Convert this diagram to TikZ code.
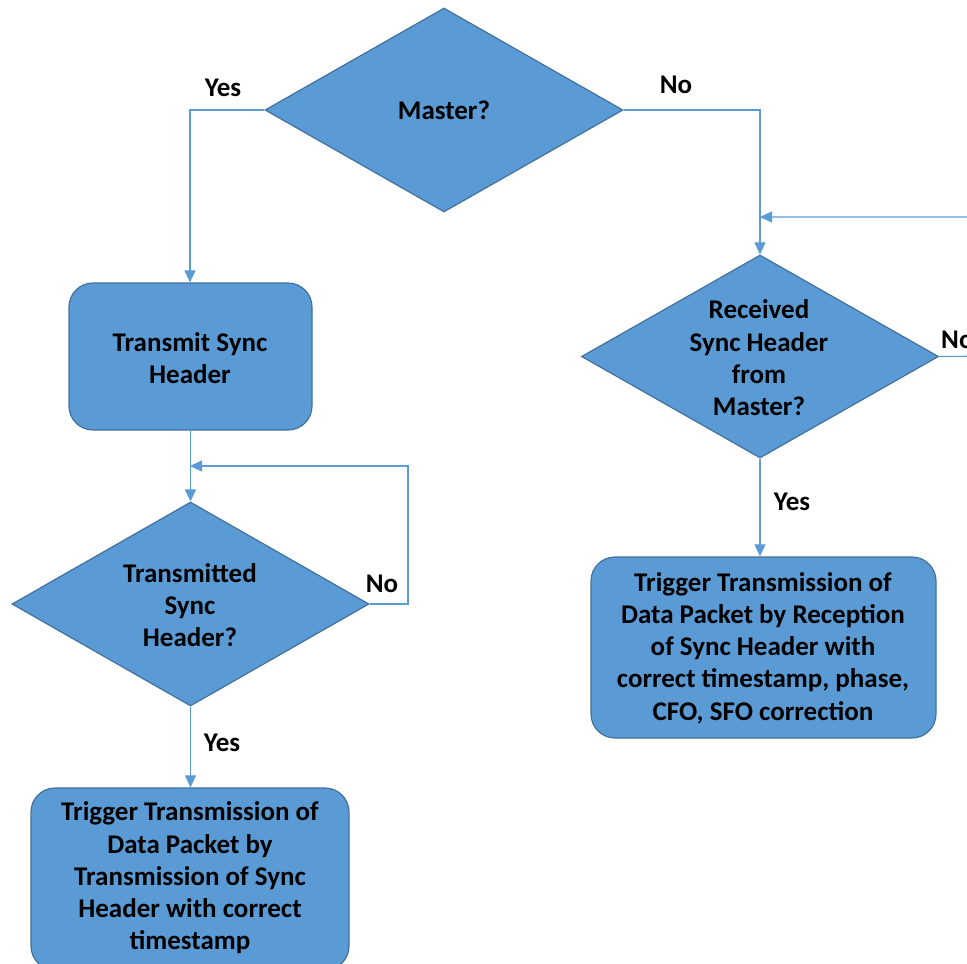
\documentclass[tikz,border=0pt]{standalone}
\usepackage{fontspec}
\setmainfont{Carlito}
\usetikzlibrary{shapes.geometric,arrows.meta}
\definecolor{fillblue}{HTML}{5B9BD5}
\definecolor{edgeblue}{HTML}{41719C}
\begin{document}
\begin{tikzpicture}[x=1pt,y=-1pt,
  every node/.style={font=\fontsize{27}{32.3}\selectfont\bfseries},
  dec/.style={diamond,draw=edgeblue,line width=1.2pt,fill=fillblue,inner sep=0pt},
  procbox/.style={rectangle,rounded corners=24pt,draw=edgeblue,line width=1.2pt,fill=fillblue,inner sep=0pt},
  txt/.style={align=center,inner sep=0pt},
  lbl/.style={inner sep=0pt},
  conn/.style={draw=fillblue,line width=1.1pt,-{Triangle[width=11pt,length=12pt]}},
  plain/.style={draw=fillblue,line width=1.1pt}]
\useasboundingbox (0,0) rectangle (967,964);
% shapes
\node[dec,minimum width=358pt,minimum height=204pt] (master) at (444,110) {};
\node[txt] (mastert) at (444,110) {Master?};
\node[procbox,minimum width=243pt,minimum height=147pt] (tsh) at (190.5,356.5) {};
\node[txt] (tsht) at (190,358) {Transmit Sync\\Header};
\node[dec,minimum width=357pt,minimum height=204pt] (tx) at (190.5,604) {};
\node[txt] (txt1) at (190,605) {Transmitted\\Sync\\Header?};
\node[procbox,minimum width=318pt,minimum height=182pt] (trig1) at (190,879) {};
\node[txt] (trig1t) at (190,878) {Trigger Transmission of\\Data Packet by\\Transmission of Sync\\Header with correct\\timestamp};
\node[dec,minimum width=357pt,minimum height=203pt] (rx) at (760,356.5) {};
\node[txt] (rxt) at (759,358) {Received\\Sync Header\\from\\Master?};
\node[procbox,minimum width=345pt,minimum height=181pt] (trig2) at (763.5,647.5) {};
\node[txt] (trig2t) at (763,648) {Trigger Transmission of\\Data Packet by Reception\\of Sync Header with\\correct timestamp, phase,\\CFO, SFO correction};
% helper coordinates
\coordinate (mL) at (190,110);
\coordinate (mR) at (760,110);
\coordinate (rxin) at (760,217);
\coordinate (rxR1) at (1000,356);
\coordinate (rxR2) at (1000,217);
\coordinate (txin) at (190,466);
\coordinate (loopR1) at (408,604);
\coordinate (loopR2) at (408,466);
% connectors
\draw[conn] (master.west) -- (mL) -- (mL |- tsh.north);
\draw[conn] (master.east) -- (mR) -- (rx.north);
\draw[conn] (rx.east) -- (rxR1) -- (rxR2) -- (rxin);
\draw[conn] (tsh.south) -- (tsh.south |- tx.north);
\draw[conn] (tx.east) -- (loopR1) -- (loopR2) -- (txin);
\draw[conn] (tx.south) -- (tx.south |- trig1.north);
\draw[conn] (rx.south) -- (rx.south |- trig2.north);
% labels
\node[lbl] (yes1) at (223,88) {Yes};
\node[lbl] (no1) at (676,85) {No};
\node[lbl,anchor=west] (no2) at (941,340) {No};
\node[lbl] (no3) at (382,584) {No};
\node[lbl] (yes2) at (222,743) {Yes};
\node[lbl] (yes3) at (792,502) {Yes};
\end{tikzpicture}
\end{document}
